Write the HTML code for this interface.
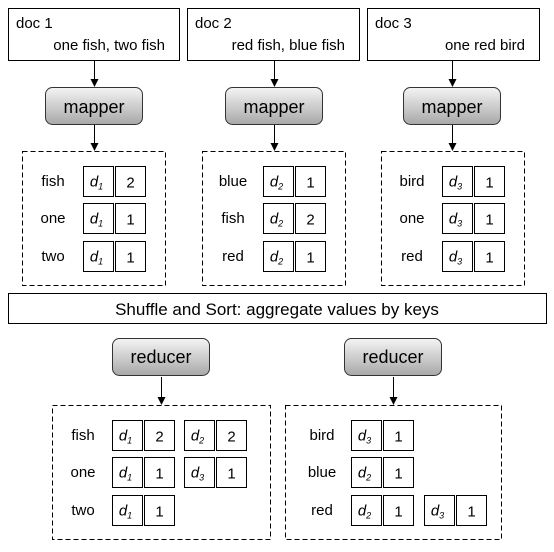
<!DOCTYPE html>
<html><head><meta charset="utf-8"><style>
html,body{margin:0;padding:0;background:#fff;}
svg{display:block;font-family:"Liberation Sans",Arial,sans-serif;}
</style></head><body>
<svg id="s" width="554" height="552" viewBox="0 0 554 552" xmlns="http://www.w3.org/2000/svg">
<defs>
<linearGradient id="g" x1="0" y1="0" x2="0" y2="1"><stop offset="0" stop-color="#f4f4f4"/><stop offset="1" stop-color="#a8a8a8"/></linearGradient>
<marker id="ah" markerWidth="8" markerHeight="8" refX="7" refY="4" orient="auto" markerUnits="userSpaceOnUse"><path d="M0,0 L8,4 L0,8 z" fill="#000"/></marker>
</defs>
</svg>
<script>
const svg=document.getElementById('s');
const NS='http://www.w3.org/2000/svg';
function mk(tag,attrs,parent){const e=document.createElementNS(NS,tag);for(const k in attrs)e.setAttribute(k,attrs[k]);(parent||svg).appendChild(e);return e;}
const docTitles=['doc 1','doc 2','doc 3'];
const docTexts=['one fish, two fish','red fish, blue fish','one red bird'];
const docX=[8,187,367],docW=[171,172,172];
const mapperCx=[94,274,452];
const boxX=[22,202,381];
const mapKeys=[['fish','one','two'],['blue','fish','red'],['bird','one','red']];
const mapDocs=[[1,1,1],[2,2,2],[3,3,3]];
const mapVals=[[2,1,1],[1,2,1],[1,1,1]];
const rowsY=[166,203,241];
function cell(x,y,docn,val,parent){
  const r1=mk('rect',{x:x,y:y,width:30,height:30,fill:'#fff',stroke:'#000','stroke-width':1},parent);
  
  
  const t=mk('text',{x:x+13,y:y+20,'font-size':15,'font-style':'italic','text-anchor':'middle'},parent);
  
  
  t.textContent='d';
  const sub=mk('tspan',{'font-size':9,dy:3},t);sub.textContent=docn;
  const r2=mk('rect',{x:x+32,y:y,width:30,height:30,fill:'#fff',stroke:'#000','stroke-width':1},parent);
  
  
  const v=mk('text',{x:x+47,y:y+21,'font-size':15,'text-anchor':'middle'},parent);
  
  
  v.textContent=val;
}
for(let i=0;i<3;i++){
  const g=mk('g',{});
  
  
  const d=mk('rect',{x:docX[i]+.5,y:8.5,width:docW[i],height:52,fill:'#fff',stroke:'#000'},g);
  
  
  const t1=mk('text',{x:docX[i]+8,y:28,'font-size':15},g);t1.textContent=docTitles[i];
  
  
  const t2=mk('text',{x:docX[i]+docW[i]-14,y:50,'font-size':15,'text-anchor':'end'},g);t2.textContent=docTexts[i];
  
  
  mk('line',{x1:mapperCx[i]+.5,y1:61,x2:mapperCx[i]+.5,y2:86,stroke:'#000','marker-end':'url(#ah)'},g);
  const m=mk('rect',{x:mapperCx[i]-48.5,y:87.5,width:97,height:37,rx:7,fill:'url(#g)',stroke:'#333'},g);
  
  
  const mt=mk('text',{x:mapperCx[i],y:113,'font-size':18,'text-anchor':'middle'},g);mt.textContent='mapper';
  
  
  mk('line',{x1:mapperCx[i]+.5,y1:125,x2:mapperCx[i]+.5,y2:150,stroke:'#000','marker-end':'url(#ah)'},g);
  const b=mk('rect',{x:boxX[i]+.5,y:151.5,width:143,height:134,fill:'none',stroke:'#000','stroke-dasharray':'5,3'},g);
  
  
  for(let r=0;r<3;r++){
    const k=mk('text',{x:boxX[i]+31,y:rowsY[r]+20,'font-size':15,'text-anchor':'middle'},g);k.textContent=mapKeys[i][r];
    
    
    cell(boxX[i]+61.5,rowsY[r]+.5,mapDocs[i][r],mapVals[i][r],g);
  }
}
const sh=mk('rect',{x:8.5,y:293.5,width:538,height:30,fill:'#fff',stroke:'#000'});


const st=mk('text',{x:277,y:315,'font-size':17,'text-anchor':'middle'});st.textContent='Shuffle and Sort: aggregate values by keys';


const redCx=[161,393],redBoxX=[52,285],redBoxW=[218,216];
const redKeys=[['fish','one','two'],['bird','blue','red']];
const redPairs=[[[[1,2],[2,2]],[[1,1],[3,1]],[[1,1]]],[[[3,1]],[[2,1]],[[2,1],[3,1]]]];
const redRowsY=[420,457,495];
const redCellX=[[112,184],[351,424]];
const redKeyCx=[83,322];
for(let i=0;i<2;i++){
  const g=mk('g',{});
  
  
  const m=mk('rect',{x:redCx[i]-48.5,y:338.5,width:97,height:37,rx:7,fill:'url(#g)',stroke:'#333'},g);
  
  
  const mt=mk('text',{x:redCx[i],y:363,'font-size':18,'text-anchor':'middle'},g);mt.textContent='reducer';
  
  
  mk('line',{x1:redCx[i]+.5,y1:377,x2:redCx[i]+.5,y2:404,stroke:'#000','marker-end':'url(#ah)'},g);
  const b=mk('rect',{x:redBoxX[i]+.5,y:405.5,width:redBoxW[i],height:134,fill:'none',stroke:'#000','stroke-dasharray':'5,3'},g);
  
  
  for(let r=0;r<3;r++){
    const k=mk('text',{x:redKeyCx[i],y:redRowsY[r]+20,'font-size':15,'text-anchor':'middle'},g);k.textContent=redKeys[i][r];
    
    
    redPairs[i][r].forEach((p,j)=>cell(redCellX[i][j]+.5,redRowsY[r]+.5,p[0],p[1],g));
  }
}
</script>
</body></html>
